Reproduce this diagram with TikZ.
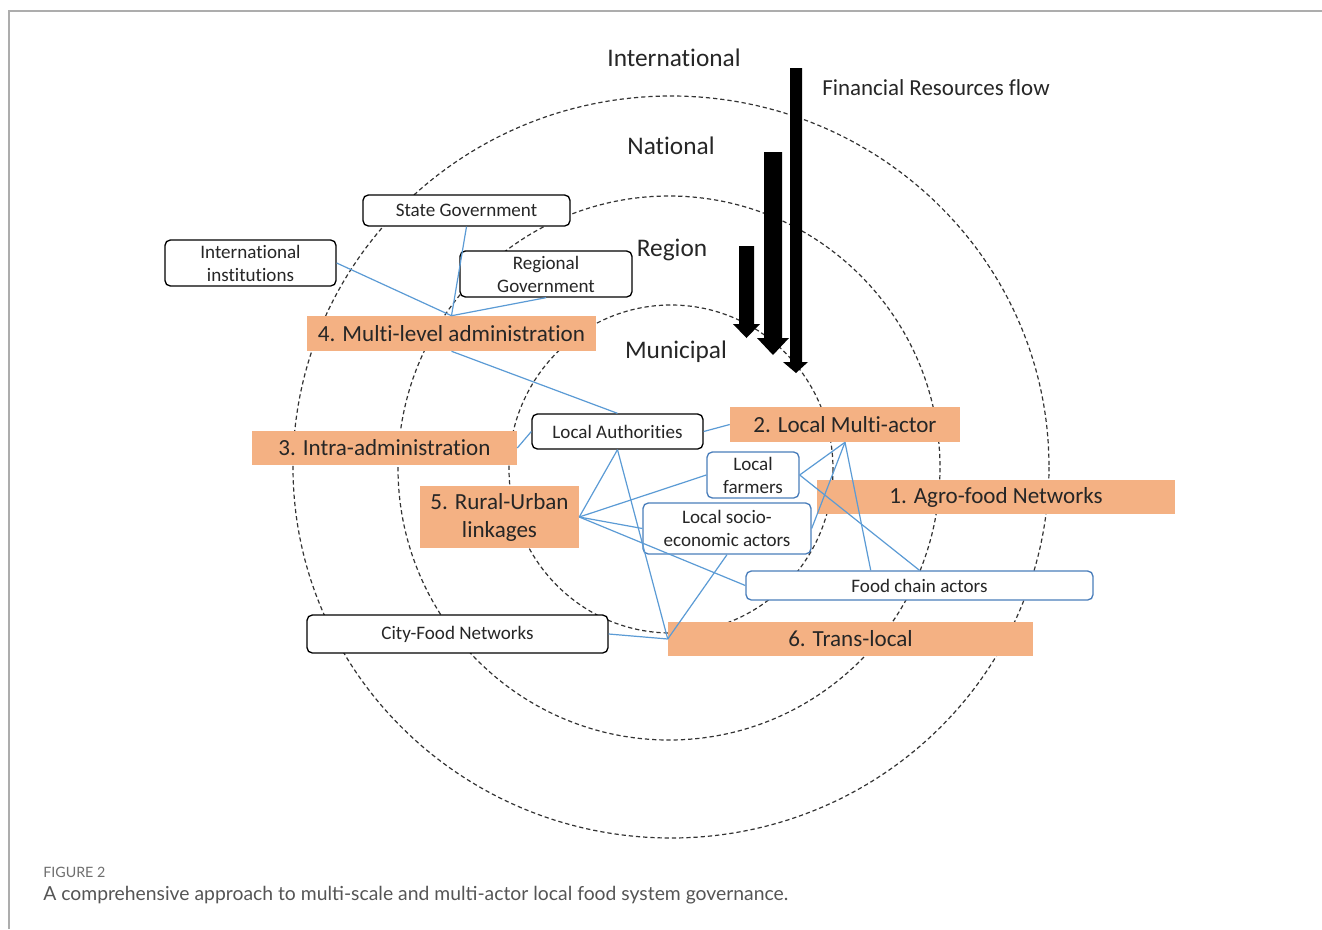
\documentclass[tikz,border=0pt]{standalone}
\usepackage{fontspec}
\setmainfont{Carlito}[Ligatures=NoCommon]
\newfontfamily\capfont{Lato}
\usetikzlibrary{calc}
\definecolor{orangebox}{HTML}{F4B183}
\definecolor{linkblue}{HTML}{5B9BD5}
\definecolor{boxblue}{HTML}{4A7EBB}
\definecolor{ringgray}{HTML}{333333}
\definecolor{framegray}{HTML}{ADADAD}
\definecolor{txt}{HTML}{262626}
\definecolor{capgray}{HTML}{555555}
\begin{document}
\begin{tikzpicture}[x=0.75pt,y=-0.75pt,
  ring/.style={draw=ringgray, line width=0.9pt, dash pattern=on 3.2pt off 2.2pt},
  wbox/.style 2 args={draw=black, line width=1pt, rounded corners=4pt, fill=white,
    minimum width=#1*0.75pt, minimum height=#2*0.75pt, inner sep=0pt, align=center,
    font=\fontsize{14.3}{17.3}\selectfont, text=txt},
  bbox/.style 2 args={wbox={#1}{#2}, draw=boxblue},
  obox/.style 2 args={fill=orangebox, minimum width=#1*0.75pt, minimum height=#2*0.75pt,
    inner sep=0pt, align=center, font=\fontsize{17.3}{21}\selectfont, text=txt},
  level/.style={font=\fontsize{19}{22}\selectfont, text=txt, inner sep=0pt},
  link/.style={draw=linkblue, line width=0.9pt},
  flow/.style={fill=black},
  frameline/.style={draw=framegray, line width=1.5pt}
]
\useasboundingbox (0,0) rectangle (1322,929);
\fill[white] (0,0) rectangle (1322,929);
% page frame
\draw[frameline] (9,929) -- (9,11) -- (1322,11);
% scale rings
\draw[ring] (671,467) ellipse [x radius=378, y radius=371];
\draw[ring] (669,468) ellipse [x radius=271, y radius=272];
\draw[ring] (671,469) ellipse [x radius=162, y radius=164];
% level labels
\node[level] (lint) at (674,58) {International};
\node[level] (lnat) at (671,146) {National};
\node[level] (lreg) at (672,250) {Region};
\node[level] (lmun) at (676,352) {Municipal};
\node[level, anchor=west, font=\fontsize{17.2}{20}\selectfont] (lfin) at (822,88) {Financial Resources flow};
% financial flow arrows
\fill[flow] (790,68) -- (802,68) -- (802,362) -- (808,362) -- (796,373) -- (783,362) -- (790,362) -- cycle;
\fill[flow] (764,152) -- (782,152) -- (782,338) -- (789,338) -- (773,355) -- (757,338) -- (764,338) -- cycle;
\fill[flow] (739,246) -- (754,246) -- (754,324) -- (760,324) -- (746.5,338) -- (733,324) -- (739,324) -- cycle;
% actor boxes
\node[wbox={207}{31}] (sg) at (466.5,210.5) {State Government};
\node[wbox={171}{46}] (ii) at (250.5,263) {International\\institutions};
\node[wbox={172}{46}] (rg) at (546,274) {Regional\\Government};
\node[wbox={171}{35}] (la) at (617.5,431.5) {Local Authorities};
\node[bbox={92}{46}] (lf) at (753,475) {Local\\farmers};
\node[bbox={168}{51}] (se) at (727,528.5) {Local socio-\\economic actors};
\node[bbox={347}{29}] (fc) at (919.5,585.5) {Food chain actors};
\node[wbox={301}{38}] (cf) at (457.5,634) {City-Food Networks};
% governance types
\node[obox={289}{35}] (n4) at (451.5,333.5) {4. Multi-level administration};
\node[obox={230}{35}] (n2) at (845,424.5) {2. Local Multi-actor};
\node[obox={358}{34}] (n1) at (996,497) {1. Agro-food Networks};
\node[obox={365}{34}] (n6) at (850.5,639) {6. Trans-local};
\node[obox={265}{34}] (n3) at (384.5,448) {3. Intra-administration};
\node[obox={159}{62}] (n5) at (499.5,517) {5. Rural-Urban\\linkages};
\coordinate (fcn) at ($(fc.north west)!0.36!(fc.north east)$);
% links
\draw[link] (ii.east) -- (n4.north);
\draw[link] (sg.south) -- (n4.north);
\draw[link] (rg.south) -- (n4.north);
\draw[link] (n4.south) -- (la.north);
\draw[link] (n3.east) -- (la.west);
\draw[link] (la.east) -- (n2.west);
\draw[link] (la.south) -- (n5.east);
\draw[link] (la.south) -- (n6.west);
\draw[link] (n5.east) -- (lf.west);
\draw[link] (n5.east) -- (se.west);
\draw[link] (n5.east) -- (fc.west);
\draw[link] (lf.east) -- (n2.south);
\draw[link] (se.east) -- (n2.south);
\draw[link] (n2.south) -- (fcn);
\draw[link] (lf.east) -- (fc.north);
\draw[link] (se.south) -- (n6.west);
\draw[link] (cf.east) -- (n6.west);
% caption
\node[anchor=west, inner sep=0pt, text=capgray!85, font=\capfont\fontsize{10.7}{12}\selectfont] (figno) at (43,872) {FIGURE 2};
\node[anchor=west, inner sep=0pt, text=capgray, font=\capfont\fontsize{14.5}{17}\selectfont] (cap) at (43,895) {A comprehensive approach to multi-scale and multi-actor local food system governance.};
\end{tikzpicture}
\end{document}
